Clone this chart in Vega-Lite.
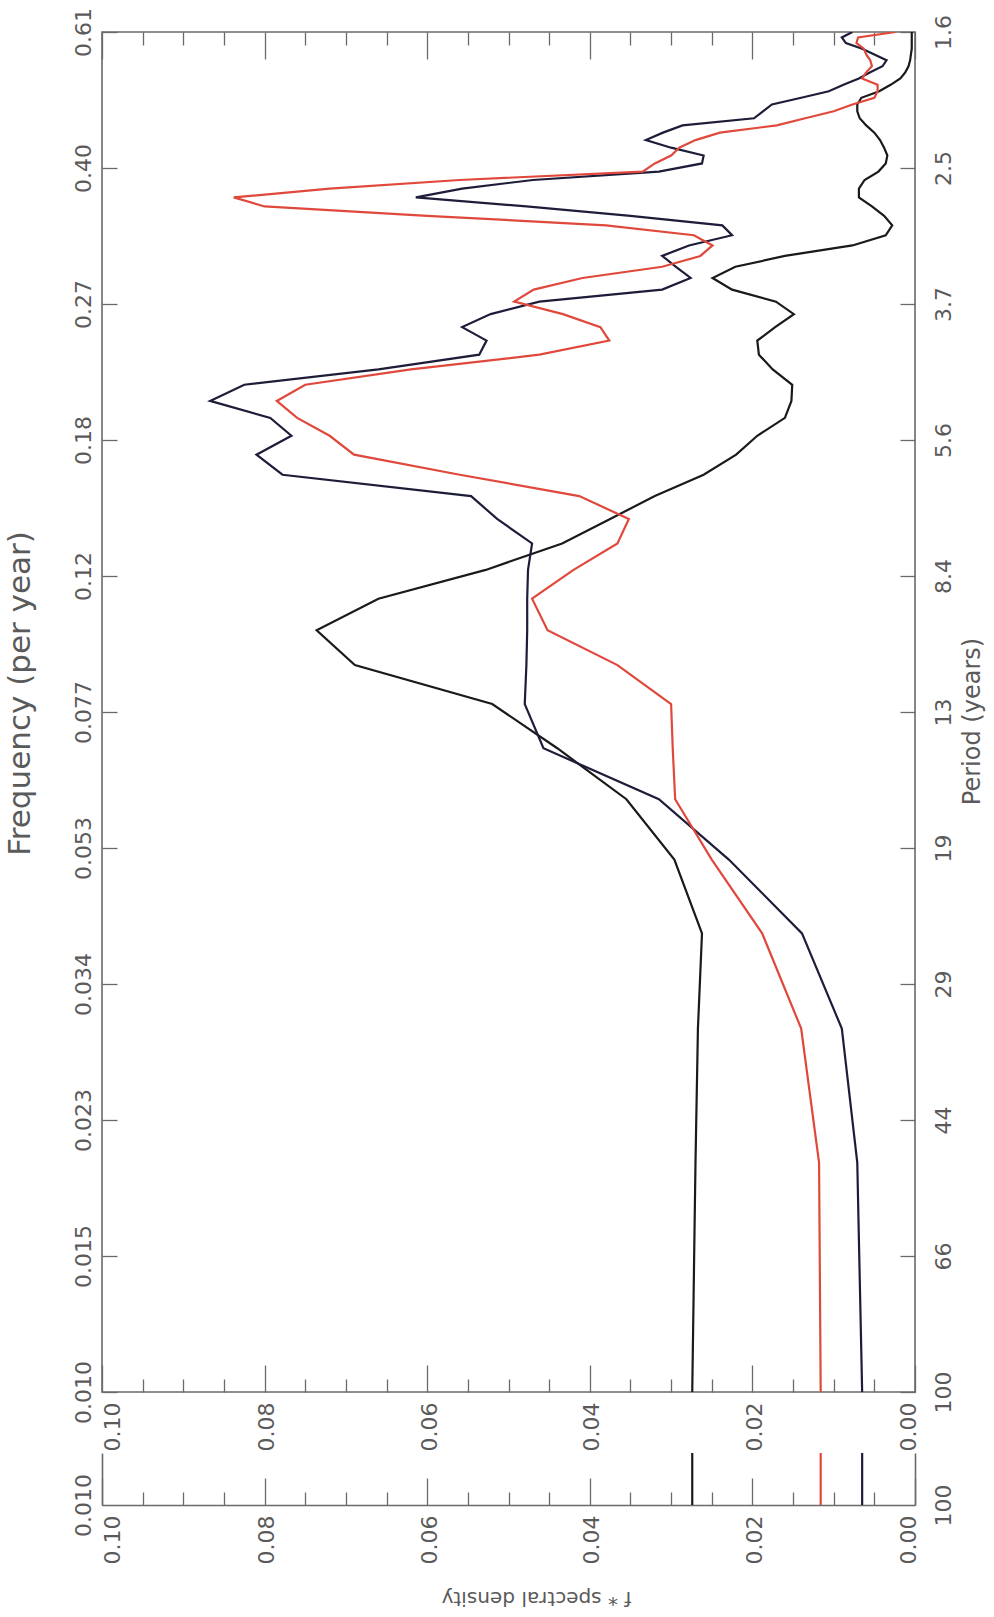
{
  "$schema": "https://vega.github.io/schema/vega-lite/v6.json",
  "background": "white",
  "padding": {"left": 3, "top": 6, "right": 5, "bottom": 5},
  "spacing": 61,
  "bounds": "flush",
  "config": {
    "view": {"stroke": null},
    "font": "DejaVu Sans",
    "axis": {
      "grid": false,
      "labelFont": "DejaVu Sans",
      "labelFontSize": 22,
      "labelColor": "#5a5a5a",
      "labelOverlap": false,
      "labelFlush": false,
      "tickColor": "#6a6a6a",
      "tickWidth": 1.3,
      "domainColor": "#6a6a6a",
      "domainWidth": 1.6,
      "titleFont": "DejaVu Sans",
      "titleColor": "#5a5a5a",
      "titleFontWeight": "normal"
    }
  },
  "datasets": {
    "spectra": [
      {"frequency": 0.01, "A": 0.0274, "B": 0.0065, "R": 0.0116},
      {"frequency": 0.02, "A": 0.0270, "B": 0.0071, "R": 0.0118},
      {"frequency": 0.03, "A": 0.0267, "B": 0.0090, "R": 0.0140},
      {"frequency": 0.04, "A": 0.0262, "B": 0.0139, "R": 0.0188},
      {"frequency": 0.05, "A": 0.0296, "B": 0.0229, "R": 0.0250},
      {"frequency": 0.06, "A": 0.0355, "B": 0.0315, "R": 0.0295},
      {"frequency": 0.07, "A": 0.0440, "B": 0.0457, "R": 0.0298},
      {"frequency": 0.08, "A": 0.0520, "B": 0.0480, "R": 0.0300},
      {"frequency": 0.09, "A": 0.0689, "B": 0.0478, "R": 0.0366},
      {"frequency": 0.10, "A": 0.0736, "B": 0.0477, "R": 0.0452},
      {"frequency": 0.11, "A": 0.0660, "B": 0.0477, "R": 0.0471},
      {"frequency": 0.12, "A": 0.0528, "B": 0.0476, "R": 0.0420},
      {"frequency": 0.13, "A": 0.0434, "B": 0.0471, "R": 0.0366},
      {"frequency": 0.14, "A": 0.0375, "B": 0.0514, "R": 0.0352},
      {"frequency": 0.15, "A": 0.0320, "B": 0.0546, "R": 0.0413},
      {"frequency": 0.16, "A": 0.0260, "B": 0.0778, "R": 0.0560},
      {"frequency": 0.17, "A": 0.0220, "B": 0.0810, "R": 0.0690},
      {"frequency": 0.18, "A": 0.0194, "B": 0.0767, "R": 0.0720},
      {"frequency": 0.19, "A": 0.0160, "B": 0.0793, "R": 0.0760},
      {"frequency": 0.20, "A": 0.0152, "B": 0.0867, "R": 0.0785},
      {"frequency": 0.21, "A": 0.0151, "B": 0.0825, "R": 0.0750},
      {"frequency": 0.22, "A": 0.0175, "B": 0.0660, "R": 0.0620},
      {"frequency": 0.23, "A": 0.0192, "B": 0.0536, "R": 0.0462},
      {"frequency": 0.24, "A": 0.0194, "B": 0.0527, "R": 0.0376},
      {"frequency": 0.25, "A": 0.0172, "B": 0.0557, "R": 0.0387},
      {"frequency": 0.26, "A": 0.0149, "B": 0.0522, "R": 0.0433},
      {"frequency": 0.27, "A": 0.0171, "B": 0.0462, "R": 0.0493},
      {"frequency": 0.28, "A": 0.0225, "B": 0.0311, "R": 0.0469},
      {"frequency": 0.29, "A": 0.0249, "B": 0.0276, "R": 0.0409},
      {"frequency": 0.30, "A": 0.0221, "B": 0.0294, "R": 0.0311},
      {"frequency": 0.31, "A": 0.0160, "B": 0.0311, "R": 0.0264},
      {"frequency": 0.32, "A": 0.0077, "B": 0.0278, "R": 0.0249},
      {"frequency": 0.33, "A": 0.0036, "B": 0.0225, "R": 0.0272},
      {"frequency": 0.34, "A": 0.0028, "B": 0.0237, "R": 0.0380},
      {"frequency": 0.35, "A": 0.0038, "B": 0.0350, "R": 0.0600},
      {"frequency": 0.36, "A": 0.0053, "B": 0.0478, "R": 0.0800},
      {"frequency": 0.37, "A": 0.0069, "B": 0.0614, "R": 0.0838},
      {"frequency": 0.38, "A": 0.0069, "B": 0.0557, "R": 0.0720},
      {"frequency": 0.39, "A": 0.0062, "B": 0.0470, "R": 0.0560},
      {"frequency": 0.40, "A": 0.0045, "B": 0.0315, "R": 0.0335},
      {"frequency": 0.41, "A": 0.0036, "B": 0.0262, "R": 0.0320},
      {"frequency": 0.42, "A": 0.0034, "B": 0.0260, "R": 0.0300},
      {"frequency": 0.43, "A": 0.0038, "B": 0.0300, "R": 0.0290},
      {"frequency": 0.44, "A": 0.0043, "B": 0.0331, "R": 0.0270},
      {"frequency": 0.45, "A": 0.0050, "B": 0.0310, "R": 0.0240},
      {"frequency": 0.46, "A": 0.0060, "B": 0.0286, "R": 0.0170},
      {"frequency": 0.47, "A": 0.0068, "B": 0.0198, "R": 0.0135},
      {"frequency": 0.48, "A": 0.0071, "B": 0.0187, "R": 0.0100},
      {"frequency": 0.49, "A": 0.0071, "B": 0.0176, "R": 0.0077},
      {"frequency": 0.50, "A": 0.0066, "B": 0.0140, "R": 0.0050},
      {"frequency": 0.51, "A": 0.0044, "B": 0.0106, "R": 0.0046},
      {"frequency": 0.52, "A": 0.0030, "B": 0.0088, "R": 0.0046},
      {"frequency": 0.53, "A": 0.0018, "B": 0.0069, "R": 0.0065},
      {"frequency": 0.54, "A": 0.0012, "B": 0.0055, "R": 0.0060},
      {"frequency": 0.55, "A": 0.0008, "B": 0.0040, "R": 0.0053},
      {"frequency": 0.56, "A": 0.0006, "B": 0.0035, "R": 0.0055},
      {"frequency": 0.57, "A": 0.0005, "B": 0.0050, "R": 0.0060},
      {"frequency": 0.58, "A": 0.0004, "B": 0.0065, "R": 0.0063},
      {"frequency": 0.59, "A": 0.0004, "B": 0.0085, "R": 0.0072},
      {"frequency": 0.60, "A": 0.0004, "B": 0.0090, "R": 0.0070},
      {"frequency": 0.61, "A": 0.0004, "B": 0.0077, "R": 0.0024}
    ]
  },
  "vconcat": [
    {
      "width": 813,
      "height": 1360,
      "view": {"stroke": "#6a6a6a", "strokeWidth": 1.6},
      "data": {"name": "spectra"},
      "transform": [{"fold": ["A", "B", "R"], "as": ["series", "density"]}],
      "layer": [
        {
          "mark": {"type": "line", "clip": true},
          "encoding": {
            "x": {
              "field": "density", "type": "quantitative",
              "scale": {"domain": [0, 0.1], "reverse": true, "nice": false, "zero": false},
              "axis": {
                "orient": "bottom", "title": null, "domain": false,
                "values": [0, 0.005, 0.01, 0.015, 0.02, 0.025, 0.03, 0.035, 0.04, 0.045, 0.05, 0.055, 0.06, 0.065, 0.07, 0.075, 0.08, 0.085, 0.09, 0.095, 0.1],
                "tickSize": {"condition": {"test": "abs(datum.value*50 - round(datum.value*50)) < 0.01", "value": -27}, "value": -13},
                "labelExpr": "abs(datum.value*50 - round(datum.value*50)) < 0.01 ? format(datum.value, '.2f') : ''",
                "labelAngle": 270, "labelAlign": "right", "labelBaseline": "middle",
                "labelPadding": 37,
                "labelOffset": {"condition": [{"test": "datum.value > 0.099", "value": 10}, {"test": "datum.value < 0.001", "value": -7}], "value": 2}
              }
            },
            "y": {
              "field": "frequency", "type": "quantitative",
              "scale": {"type": "log", "domain": [0.01, 0.61], "nice": false},
              "axis": {
                "orient": "left", "domain": false,
                "values": [0.01, 0.0150847, 0.0227548, 0.0343251, 0.0517781, 0.0781025, 0.117814, 0.177719, 0.268085, 0.404398, 0.61],
                "labelExpr": "['0.010','0.015','0.023','0.034','0.053','0.077','0.12','0.18','0.27','0.40','0.61'][round(log(datum.value/0.01)/log(61)*10)]",
                "tickSize": -15,
                "labelAngle": 270, "labelAlign": "center", "labelBaseline": "alphabetic",
                "labelPadding": 27,
                "title": "Frequency (per year)",
                "titleFontSize": 31, "titleAngle": 270, "titleAlign": "center", "titleBaseline": "alphabetic",
                "titleX": -73, "titleY": 661
              }
            },
            "color": {"field": "series", "type": "nominal", "scale": {"domain": ["A", "B", "R"], "range": ["#1a1a1a", "#1d1d3a", "#e0483c"]}, "legend": null},
            "strokeWidth": {"field": "series", "type": "nominal", "scale": {"domain": ["A", "B", "R"], "range": [2.2, 2.2, 1.6]}, "legend": null},
            "order": {"field": "frequency", "type": "quantitative"}
          }
        },
        {
          "mark": {"type": "point", "opacity": 0},
          "encoding": {
            "x": {
              "field": "density", "type": "quantitative",
              "scale": {"domain": [0, 0.1], "reverse": true, "nice": false, "zero": false},
              "axis": {
                "orient": "top", "title": null, "domain": false, "labels": false,
                "values": [0, 0.005, 0.01, 0.015, 0.02, 0.025, 0.03, 0.035, 0.04, 0.045, 0.05, 0.055, 0.06, 0.065, 0.07, 0.075, 0.08, 0.085, 0.09, 0.095, 0.1],
                "tickSize": {"condition": {"test": "abs(datum.value*50 - round(datum.value*50)) < 0.01", "value": -27}, "value": -13}
              }
            },
            "y": {
              "field": "frequency", "type": "quantitative",
              "scale": {"type": "log", "domain": [0.01, 0.61], "nice": false},
              "axis": {
                "orient": "right", "domain": false,
                "values": [0.01, 0.0150847, 0.0227548, 0.0343251, 0.0517781, 0.0781025, 0.117814, 0.177719, 0.268085, 0.404398, 0.61],
                "labelExpr": "['100','66','44','29','19','13','8.4','5.6','3.7','2.5','1.6'][round(log(datum.value/0.01)/log(61)*10)]",
                "tickSize": -15,
                "labelAngle": 270, "labelAlign": "center", "labelBaseline": "top",
                "labelPadding": 33,
                "title": "Period (years)",
                "titleFontSize": 24, "titleAngle": 270, "titleAlign": "center", "titleBaseline": "alphabetic",
                "titleX": 64, "titleY": 689
              }
            }
          }
        }
      ],
      "resolve": {"axis": {"x": "independent", "y": "independent"}}
    },
    {
      "width": 813,
      "height": 52,
      "data": {"name": "spectra"},
      "transform": [
        {"filter": "datum.frequency < 0.011"},
        {"fold": ["A", "B", "R"], "as": ["series", "density"]}
      ],
      "layer": [
        {
          "mark": {"type": "rule"},
          "encoding": {
            "x": {
              "field": "density", "type": "quantitative",
              "scale": {"domain": [0, 0.1], "reverse": true, "nice": false, "zero": false},
              "axis": {
                "orient": "bottom", "domain": true,
                "values": [0, 0.005, 0.01, 0.015, 0.02, 0.025, 0.03, 0.035, 0.04, 0.045, 0.05, 0.055, 0.06, 0.065, 0.07, 0.075, 0.08, 0.085, 0.09, 0.095, 0.1],
                "tickSize": {"condition": {"test": "abs(datum.value*50 - round(datum.value*50)) < 0.01", "value": -27}, "value": -13},
                "labelExpr": "abs(datum.value*50 - round(datum.value*50)) < 0.01 ? format(datum.value, '.2f') : ''",
                "labelAngle": 270, "labelAlign": "right", "labelBaseline": "middle",
                "labelPadding": 37,
                "labelOffset": {"condition": [{"test": "datum.value > 0.099", "value": 10}, {"test": "datum.value < 0.001", "value": -7}], "value": 2},
                "title": "f * spectral density",
                "titleFontSize": 20, "titleAngle": 180, "titleAlign": "center", "titleBaseline": "alphabetic",
                "titleX": 434, "titleY": 86
              }
            },
            "color": {"field": "series", "type": "nominal", "scale": {"domain": ["A", "B", "R"], "range": ["#1a1a1a", "#1d1d3a", "#e0483c"]}, "legend": null},
            "strokeWidth": {"field": "series", "type": "nominal", "scale": {"domain": ["A", "B", "R"], "range": [2.2, 2.2, 1.6]}, "legend": null}
          }
        },
        {
          "mark": {"type": "point", "opacity": 0},
          "encoding": {
            "y": {
              "field": "frequency", "type": "quantitative",
              "scale": {"type": "log", "domain": [0.01, 0.0102], "nice": false},
              "axis": {
                "orient": "left", "domain": true, "ticks": false, "title": null,
                "values": [0.01], "labelExpr": "'0.010'",
                "labelAngle": 270, "labelAlign": "center", "labelBaseline": "alphabetic",
                "labelPadding": 12
              }
            }
          }
        },
        {
          "mark": {"type": "point", "opacity": 0},
          "encoding": {
            "y": {
              "field": "frequency", "type": "quantitative",
              "scale": {"type": "log", "domain": [0.01, 0.0102], "nice": false},
              "axis": {
                "orient": "right", "domain": true, "ticks": false, "title": null,
                "values": [0.01], "labelExpr": "'100'",
                "labelAngle": 270, "labelAlign": "center", "labelBaseline": "top",
                "labelPadding": 18
              }
            }
          }
        }
      ],
      "resolve": {"axis": {"y": "independent"}}
    }
  ]
}
